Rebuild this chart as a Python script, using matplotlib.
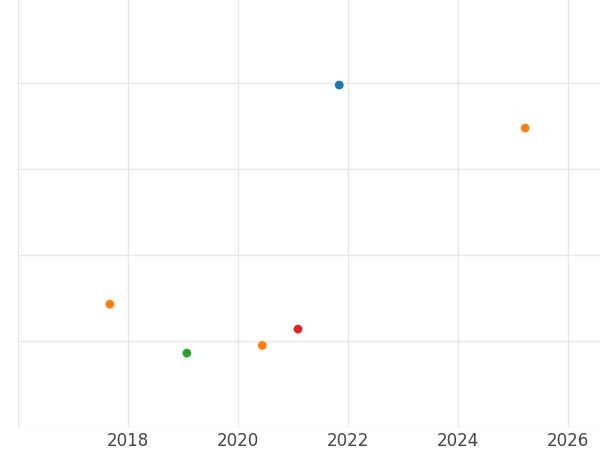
import matplotlib
matplotlib.use("Agg")
import matplotlib.pyplot as plt

years = [2021.84, 2025.22, 2017.67, 2019.07, 2020.44, 2021.09]
values = [3.98, 3.48, 1.43, 0.86, 0.95, 1.14]
colors = ["#1f77b4", "#ff7f0e", "#ff7f0e", "#2ca02c", "#ff7f0e", "#d62728"]
xticks = [2018, 2020, 2022, 2024, 2026]

fig = plt.figure(figsize=(6, 4.5), dpi=100)
ax = fig.add_axes([0.03, 0.051, 0.97, 0.949])
ax.scatter(years, values, c=colors, s=40, zorder=3, linewidths=0)

ax.set_xlim(2016, 2026.58)
ax.set_ylim(0, 4.97)
ax.set_xticks(xticks)
ax.set_yticks([0, 1, 2, 3, 4])
ax.set_yticklabels([])
ax.grid(True, which="major", color="#e8e8e8", linewidth=1.0)
ax.axvline(2016, color="#e3e3e3", linewidth=1.5)
ax.tick_params(axis="both", which="both", length=0, labelsize=12, labelcolor="#444444")
for s in ax.spines.values():
    s.set_visible(False)

fig.savefig("out.png", dpi=100)
